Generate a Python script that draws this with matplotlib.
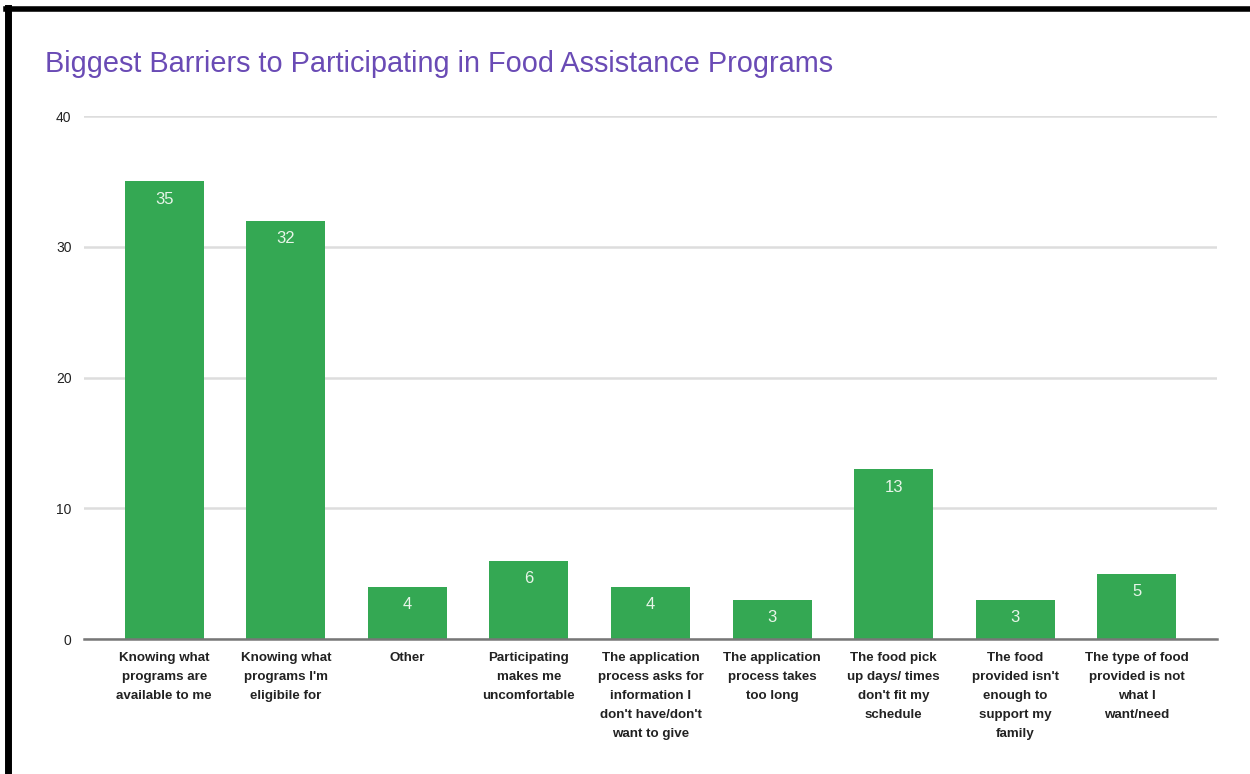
import matplotlib.pyplot as plt
import numpy as np

plt.rcParams['font.family'] = ['Liberation Sans', 'DejaVu Sans']

categories = [
    "Knowing what\nprograms are\navailable to me",
    "Knowing what\nprograms I'm\neligibile for",
    "Other",
    "Participating\nmakes me\nuncomfortable",
    "The application\nprocess asks for\ninformation I\ndon't have/don't\nwant to give",
    "The application\nprocess takes\ntoo long",
    "The food pick\nup days/ times\ndon't fit my\nschedule",
    "The food\nprovided isn't\nenough to\nsupport my\nfamily",
    "The type of food\nprovided is not\nwhat I\nwant/need",
]
counts = [35, 32, 4, 6, 4, 3, 13, 3, 5]
yticks = [0, 10, 20, 30, 40]

green = '#34a853'
fig = plt.figure(figsize=(12.5, 7.74), dpi=100)
ax = fig.add_axes([0.0672, 0.1744, 0.9064, 0.6757])

x = np.arange(len(categories))
bars = ax.bar(x, counts, width=0.65, color=green, zorder=3)

# value labels inside the top of each bar
for b, v in zip(bars, counts):
    ax.annotate(str(v), (b.get_x() + b.get_width() / 2, v),
                xytext=(0, -18), textcoords='offset pixels',
                ha='center', va='center', color='#e8f5e9', fontsize=12)

ax.set_xlim(-0.66, 8.66)
ax.set_ylim(0, 40)
ax.set_yticks(yticks)
ax.set_yticklabels([str(t) for t in yticks], fontsize=10, color='#222222')
ax.set_xticks(x)
ax.set_xticklabels(categories, fontsize=9.6, color='#222222', linespacing=1.78,
                   fontweight='bold')
ax.tick_params(axis='both', length=0)
ax.tick_params(axis='y', pad=9)
ax.tick_params(axis='x', pad=9)

ax.grid(axis='y', color='#dddddd', linewidth=1.8, zorder=0)
for s in ['top', 'right', 'left']:
    ax.spines[s].set_visible(False)
ax.spines['bottom'].set_color('#777777')
ax.spines['bottom'].set_linewidth(1.8)
ax.spines['bottom'].set_zorder(4)

fig.text(0.036, 0.917, "Biggest Barriers to Participating in Food Assistance Programs",
         fontsize=20.8, color='#6a4bb5', va='center', ha='left')

# black frame on top and left edges
fig.add_artist(plt.Line2D([0.0048, 1.0], [0.9884, 0.9884], color='black', linewidth=4,
                          transform=fig.transFigure))
fig.add_artist(plt.Line2D([0.0064, 0.0064], [0.0, 0.99], color='black', linewidth=5,
                          transform=fig.transFigure))

fig.savefig('out.png', dpi=100)
